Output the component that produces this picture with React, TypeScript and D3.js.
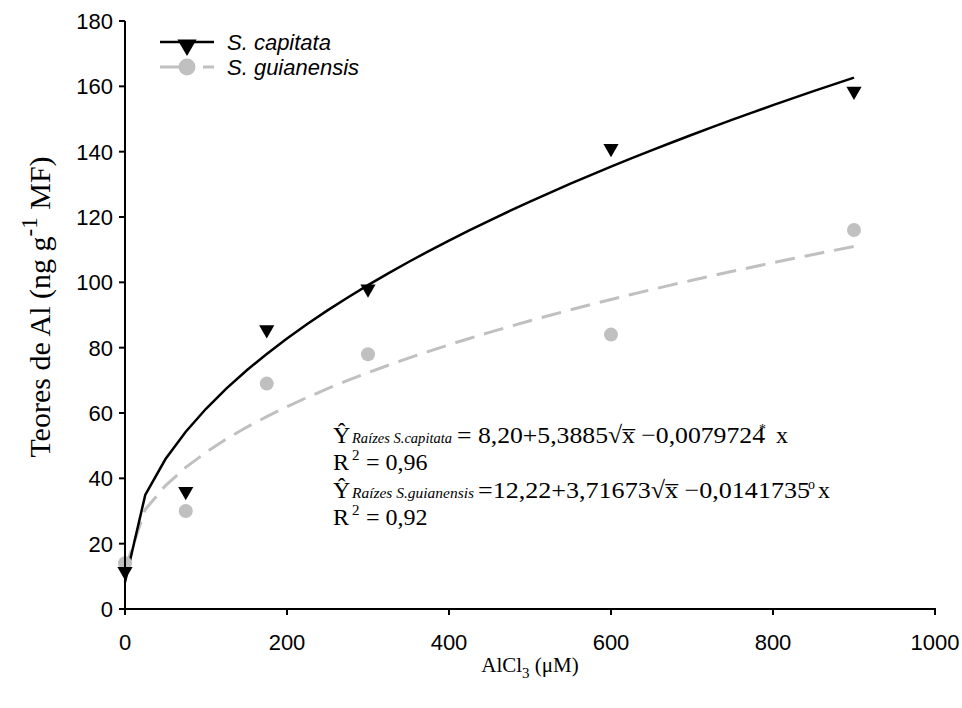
import React from "react";
import * as d3 from "d3";

const doses = [0, 75, 175, 300, 600, 900];
const capitata = [11.5, 36, 85.5, 98, 141, 158.5];
const guianensis = [14, 30, 69, 78, 84, 116];
const capCoef = [8.2, 5.3885, -0.0079724];
const guiCoef = [12.22, 3.71673, -0.0141735];
const xTicks = [0, 200, 400, 600, 800, 1000];
const yTicks = [0, 20, 40, 60, 80, 100, 120, 140, 160, 180];
const fitX = d3.range(0, 901, 25);

const W = 962, H = 708;
const x = d3.scaleLinear().domain([0, 1000]).range([125, 935]);
const y = d3.scaleLinear().domain([0, 180]).range([609, 21]);

const fit = (c: number[]) => fitX.map((v) => [v, c[0] + c[1] * Math.sqrt(v) + c[2] * v] as [number, number]);
const line = d3.line<[number, number]>().x((d) => x(d[0])).y((d) => y(d[1]));
const tri = d3.symbol().type(d3.symbolTriangle).size(100)();
const triL = d3.symbol().type(d3.symbolTriangle).size(160)();

const GRAY = "#c0c0c0";
const ARIAL = "'Liberation Sans', Arial, sans-serif";
const TIMES = "'Liberation Serif', 'Times New Roman', serif";

export default function App() {
  return (
    <svg width={W} height={H} style={{ position: "absolute", left: 0, top: 0, background: "#fff" }}>
      {/* fitted curves */}
      <path d={line(fit(guiCoef)) || ""} fill="none" stroke={GRAY} strokeWidth={3} strokeDasharray="20 10" />
      <path d={line(fit(capCoef)) || ""} fill="none" stroke="#000" strokeWidth={2.5} />
      {/* points */}
      {doses.map((d, i) => (
        <circle key={"g" + i} cx={x(d)} cy={y(guianensis[i])} r={7} fill={GRAY} />
      ))}
      {doses.map((d, i) => (
        <path key={"c" + i} d={tri || ""} transform={`translate(${x(d)},${y(capitata[i])}) rotate(180)`} fill="#000" />
      ))}
      {/* axes */}
      <line x1={125} x2={125} y1={21} y2={610} stroke="#000" strokeWidth={2} />
      <line x1={119} x2={936} y1={609} y2={609} stroke="#000" strokeWidth={2} />
      {yTicks.map((t) => (
        <g key={"y" + t}>
          <line x1={119} x2={125} y1={y(t)} y2={y(t)} stroke="#000" strokeWidth={2} />
          <text x={113} y={y(t) + 8} textAnchor="end" fontFamily={ARIAL} fontSize={22}>{t}</text>
        </g>
      ))}
      {xTicks.map((t) => (
        <g key={"x" + t}>
          <line x1={x(t)} x2={x(t)} y1={609} y2={615} stroke="#000" strokeWidth={2} />
          <text x={x(t)} y={650} textAnchor="middle" fontFamily={ARIAL} fontSize={22}>{t}</text>
        </g>
      ))}
      {/* axis titles */}
      <text transform="translate(50,307) rotate(-90)" textAnchor="middle" fontFamily={TIMES} fontSize={30}>
        Teores de Al (ng g<tspan dy={-13} fontSize={23}>-1</tspan><tspan dy={13}> MF)</tspan>
      </text>
      <text x={530} y={672} textAnchor="middle" fontFamily={TIMES} fontSize={21}>
        AlCl<tspan dy={6} fontSize={15}>3</tspan><tspan dy={-6}> (μM)</tspan>
      </text>
      {/* legend */}
      <line x1={160} x2={214} y1={42} y2={42} stroke="#000" strokeWidth={2.5} />
      <path d={triL || ""} transform="translate(187,45) rotate(180)" fill="#000" />
      <text x={227} y={50} fontFamily={ARIAL} fontStyle="italic" fontSize={22}>S. capitata</text>
      <line x1={160} x2={214} y1={67} y2={67} stroke={GRAY} strokeWidth={3} strokeDasharray="25 18" />
      <circle cx={187} cy={67} r={8.5} fill={GRAY} />
      <text x={227} y={75} fontFamily={ARIAL} fontStyle="italic" fontSize={22}>S. guianensis</text>
      {/* equations */}
      <g fontFamily={TIMES} fontSize={24}>
        <text y={443}>
          <tspan x={333}>Ŷ</tspan>
          <tspan x={352} fontStyle="italic" fontSize={15} textLength={100} lengthAdjust="spacingAndGlyphs">Raízes S.capitata</tspan>
          <tspan x={457} textLength={308} lengthAdjust="spacingAndGlyphs">= 8,20+5,3885√x̅ −0,0079724</tspan>
          <tspan x={759} dy={-9} fontSize={14}>*</tspan>
          <tspan x={776} dy={9}>x</tspan>
        </text>
        <text y={470}>
          <tspan x={333}>R</tspan>
          <tspan x={352} dy={-10} fontSize={15}>2</tspan>
          <tspan x={366} dy={10}>= 0,96</tspan>
        </text>
        <text y={498}>
          <tspan x={333}>Ŷ</tspan>
          <tspan x={352} fontStyle="italic" fontSize={15} textLength={122} lengthAdjust="spacingAndGlyphs">Raízes S.guianensis</tspan>
          <tspan x={478} textLength={332} lengthAdjust="spacingAndGlyphs">=12,22+3,71673√x̅ −0,0141735</tspan>
          <tspan x={808} dy={-9} fontSize={14}>o</tspan>
          <tspan x={818} dy={9}>x</tspan>
        </text>
        <text y={525}>
          <tspan x={333}>R</tspan>
          <tspan x={352} dy={-10} fontSize={15}>2</tspan>
          <tspan x={366} dy={10}>= 0,92</tspan>
        </text>
      </g>
    </svg>
  );
}
